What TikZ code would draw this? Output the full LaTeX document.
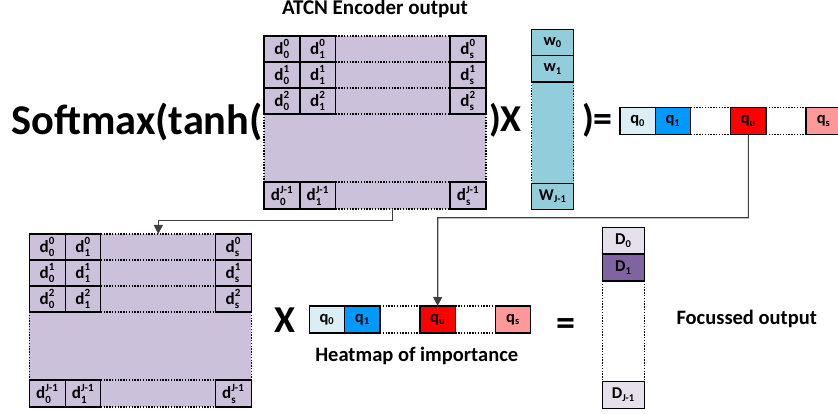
\documentclass[tikz,border=0pt]{standalone}
\usepackage{amsmath}
\usepackage{fontspec}
\setmainfont{Carlito}
\usetikzlibrary{arrows.meta}
\DeclareMathSizes{17}{17}{11}{8}
\DeclareMathSizes{16.5}{16.5}{10.5}{7}

\definecolor{matfill}{HTML}{CCC1DA}
\definecolor{wfill}{HTML}{92CDDC}
\definecolor{qzero}{HTML}{DAEEF3}
\definecolor{qone}{HTML}{0099FF}
\definecolor{qu}{HTML}{FF0000}
\definecolor{qs}{HTML}{FF9999}
\definecolor{dlight}{HTML}{E6E0EC}
\definecolor{dpurple}{HTML}{8064A2}
\definecolor{connc}{HTML}{404040}

% matrix entry d^{row}_{col}
\newcommand\dl[2]{$\text{d}^{\text{#1}}_{\text{#2}}$}
% vector entry with a subscript
\newcommand\vl[2]{#1$_{\text{#2}}$}

\tikzset{
  lbl/.style={inner sep=0pt, outer sep=0pt, font=\bfseries\fontsize{20.5}{21}\selectfont},
  big/.style={inner sep=0pt, outer sep=0pt, font=\bfseries\fontsize{38}{38}\selectfont, anchor=base west},
  cellbase/.style={draw=black, line width=1.2pt, inner sep=0pt, outer sep=0pt, anchor=north west},
  dcell/.style={cellbase, fill=matfill, minimum width=36pt, minimum height=26pt,
    font=\bfseries\fontsize{17}{17}\selectfont},
  vcell/.style={cellbase, minimum width=35.3pt, minimum height=27pt,
    font=\bfseries\fontsize{16.5}{16.5}\selectfont},
  colcell/.style={vcell, minimum width=42pt},
  matbg/.style={inner sep=0pt, outer sep=0pt, anchor=north west, fill=matfill,
    minimum width=222pt, minimum height=173pt},
  dotline/.style={line width=1.2pt, dash pattern=on 1.4pt off 1.4pt},
  conn/.style={draw=connc, line width=1.2pt},
  tip/.style={-{Triangle[width=9pt,length=9pt]}},
  encmat/.pic={
    \node[matbg] (-bg) at (0,0) {};
    \foreach \y in {0,26,52,78,146,173} \draw[dotline] (71.5,\y) -- (186,\y);
    \draw[dotline] (0,78) -- (0,146);
    \draw[dotline] (222,78) -- (222,146);
    \foreach \r/\y in {0/0,1/26,2/52} {
      \node[dcell] (-a\r) at (0,\y) {\dl{\r}{0}};
      \node[dcell, minimum width=35.5pt] (-b\r) at (36,\y) {\dl{\r}{1}};
      \node[dcell] (-s\r) at (186,\y) {\dl{\r}{s}};
    }
    \node[dcell, minimum height=27pt] (-aJ) at (0,146) {\dl{J-1}{0}};
    \node[dcell, minimum height=27pt, minimum width=35.5pt] (-bJ) at (36,146) {\dl{J-1}{1}};
    \node[dcell, minimum height=27pt] (-sJ) at (186,146) {\dl{J-1}{s}};
  },
  qrow/.pic={
    \foreach \y in {0,27} {
      \draw[dotline] (70.7,\y) -- (110.7,\y);
      \draw[dotline] (146,\y) -- (186,\y);
    }
    \node[vcell, fill=qzero] (-0) at (0,0) {\vl{q}{0}};
    \node[vcell, fill=qone] (-1) at (35.3,0) {\vl{q}{1}};
    \node[vcell, fill=qu] (-u) at (110.7,0) {\vl{q}{u}};
    \node[vcell, fill=qs] (-s) at (186,0) {\vl{q}{s}};
  }
}

\begin{document}
\begin{tikzpicture}[x=1pt, y=-1pt]
\useasboundingbox (0,0) rectangle (838,414);

% formula text
\node[lbl, anchor=base, font=\bfseries\fontsize{21}{21}\selectfont] (title) at (375,14.5) {ATCN Encoder output};
\node[inner sep=0pt, anchor=base west, font=\bfseries\fontsize{42.4}{42}\selectfont]
  (softmax) at (11,135) {Softmax(tanh(};
\node[big] (closex) at (489,132) {)X};
\node[big] (closeeq) at (582,132) {)=};

% encoder output matrix
\pic (encT) at (264,36) {encmat};

% weight column
\node[colcell, draw=none, fill=wfill, minimum height=180pt] (wcol) at (531.7,29.3) {};
\draw[dotline] (531.7,82) -- (531.7,183.3);
\draw[dotline] (573.7,82) -- (573.7,183.3);
\node[colcell, fill=wfill, minimum height=26.4pt] (w0) at (531.7,29.3) {\vl{w}{0}};
\node[colcell, fill=wfill, minimum height=26.3pt] (w1) at (531.7,55.7) {\vl{w}{1}};
\node[colcell, fill=wfill, minimum height=26pt] (wJ) at (531.7,183.3) {\vl{W}{J-1}};

% attention weights
\pic (qT) at (620,107.7) {qrow};

% second line
\pic (encB) at (29.3,234) {encmat};
\node[big] (times) at (274,332) {X};
\pic (qB) at (309.3,306) {qrow};
\node[lbl, anchor=base] (heat) at (416.7,361.7) {Heatmap of importance};
\node[big] (equals) at (556,335) {=};

% focussed output column
\draw[dotline] (602.3,281) -- (602.3,381.3);
\draw[dotline] (644.3,281) -- (644.3,381.3);
\node[colcell, fill=dlight, minimum height=26.7pt] (D0) at (602.3,227.3) {\vl{D}{0}};
\node[colcell, fill=dpurple] (D1) at (602.3,254) {\vl{D}{1}};
\node[colcell, fill=dlight] (DJ) at (602.3,381.3) {\vl{D}{J-1}};
\node[lbl, anchor=base] (focus) at (746.7,324) {Focussed output};

% connectors
\coordinate (k1) at (392.7,220.7);
\coordinate (k2) at (158.3,220.7);
\draw[conn, tip] (k1 |- encT-bg.south) -- (k1) -- (k2) -- (k2 |- encB-bg.north);
\coordinate (k3) at (437.7,217.7);
\draw[conn, tip] (qT-u.south) |- (k3) -- (qB-u.north);
\end{tikzpicture}
\end{document}
